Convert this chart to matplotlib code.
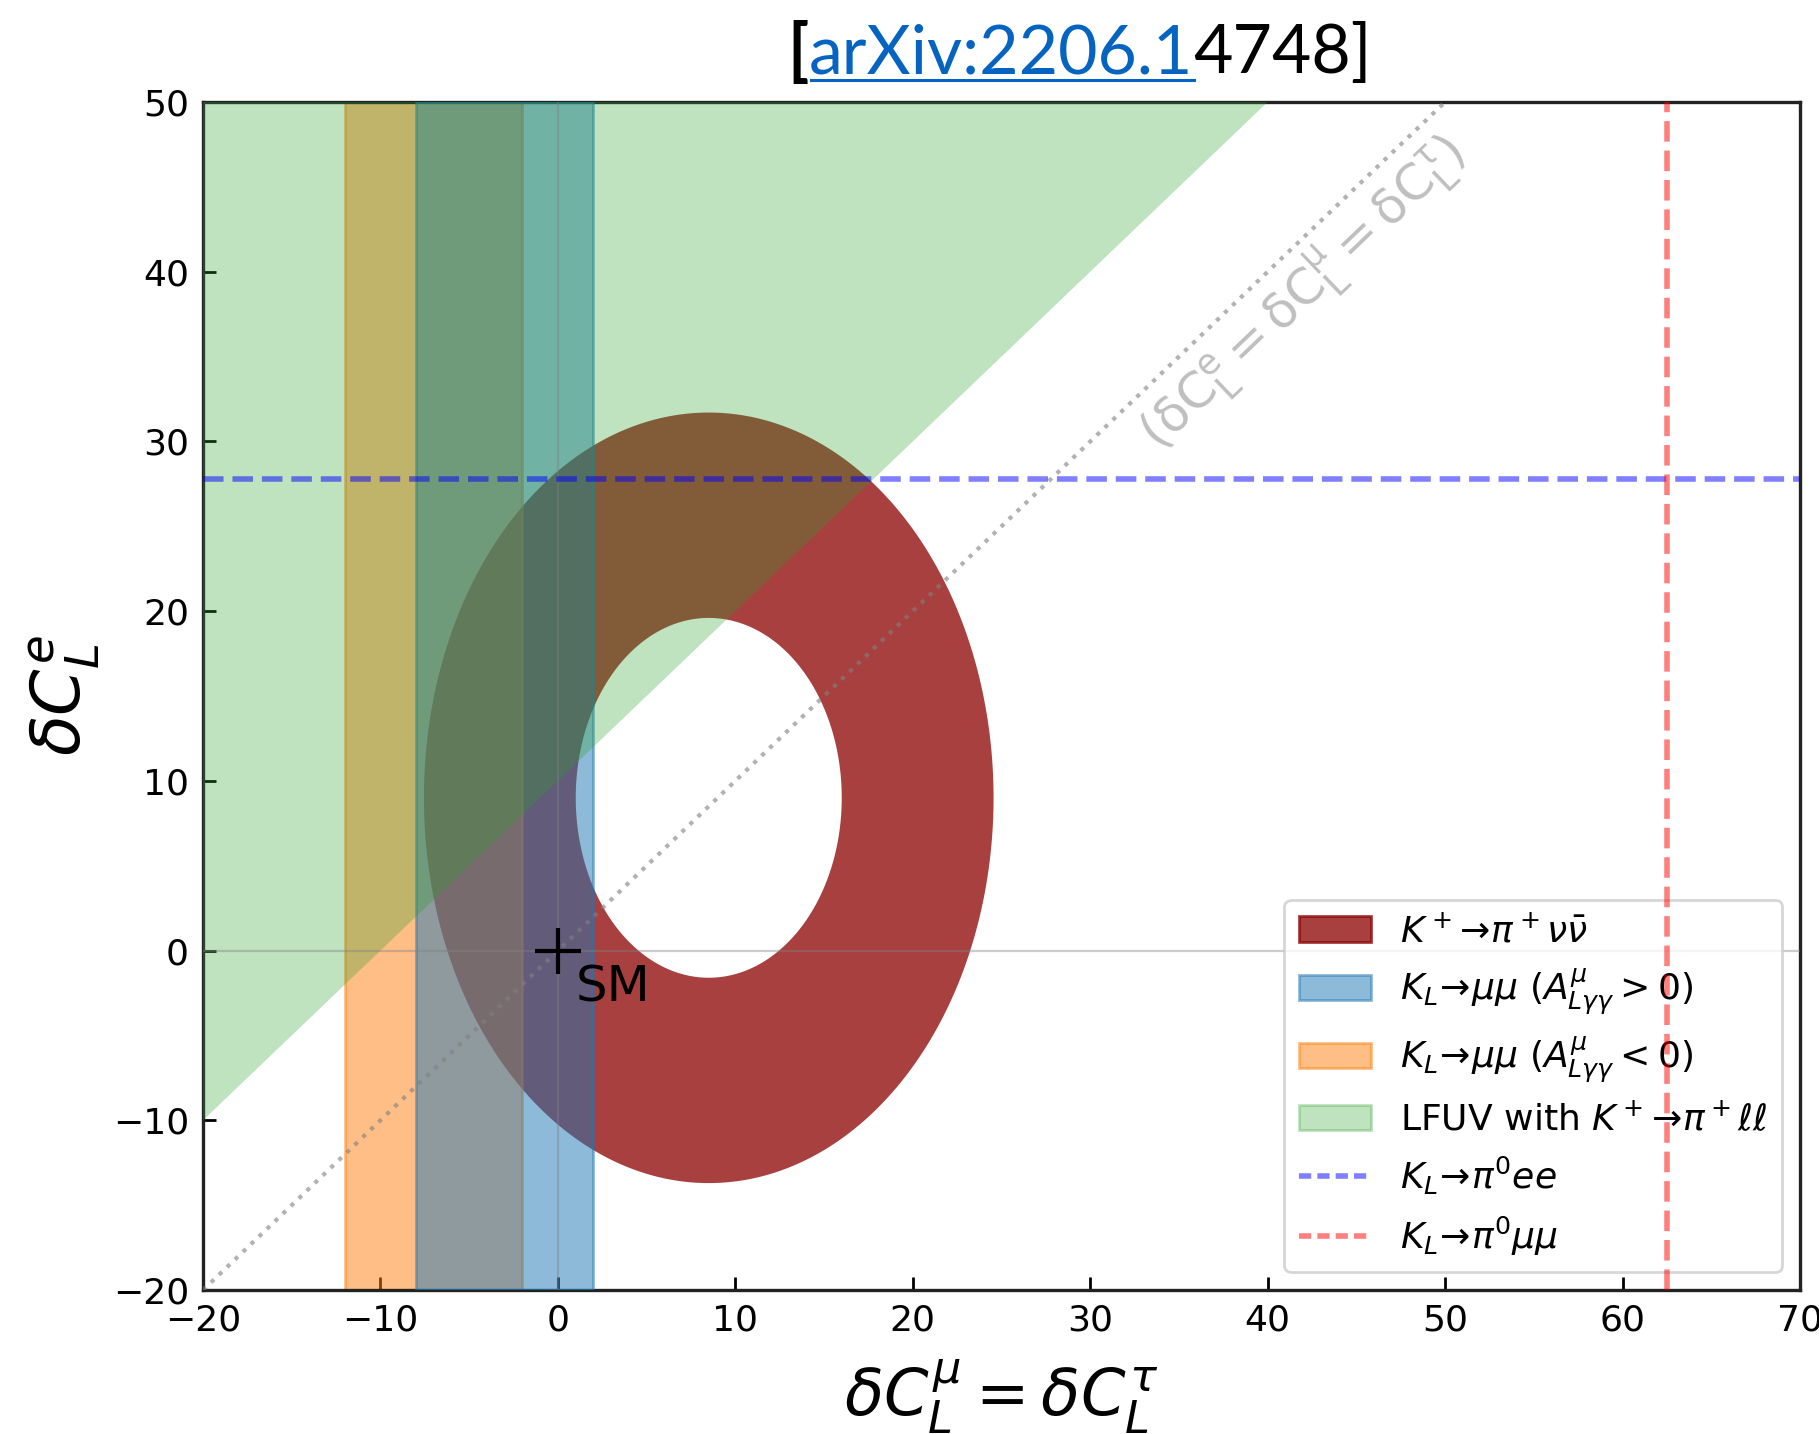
import matplotlib
matplotlib.use("Agg")
import matplotlib.pyplot as plt
import numpy as np
from matplotlib.patches import Patch
from matplotlib.lines import Line2D

# K+ -> pi+ nu nubar allowed ring: centre and semi-axes (inner, outer)
ring_center = (8.5, 9.0)
ring_rx = [7.5, 16.05]
ring_ry = [10.6, 22.7]

# K_L -> mu mu allowed bands in dC_L^mu
band_pos = [-8.0, 2.0]    # A^mu_Lgg > 0
band_neg = [-12.0, -2.0]  # A^mu_Lgg < 0

# LFUV wedge from K+ -> pi+ l l
lfuv_x = [-20, 40, -20]
lfuv_y = [-10, 50, 50]

# dashed bounds
bound_ee = 27.8     # K_L -> pi0 ee  (on dC_L^e)
bound_mumu = 62.5   # K_L -> pi0 mumu (on dC_L^mu)

diag = [-20, 50]
sm_point = (0, 0)

xticks = np.arange(-20, 71, 10)
yticks = np.arange(-20, 51, 10)

fig = plt.figure(figsize=(9.095, 7.17), dpi=200)
ax = fig.add_axes([0.1116, 0.1004, 0.878, 0.8285])

# ring
xx, yy = np.meshgrid(np.linspace(-20, 70, 1200), np.linspace(-20, 50, 1000))
rr = ((xx - ring_center[0]) / ring_rx[1]) ** 2 + ((yy - ring_center[1]) / ring_ry[1]) ** 2
ax.contourf(xx, yy, rr, levels=[(ring_ry[0] / ring_ry[1]) ** 2, 1.0],
            colors=["darkred"], alpha=0.75, zorder=1, antialiased=True)

ax.axvspan(*band_neg, color="tab:orange", alpha=0.5, lw=1, zorder=2)
ax.axvspan(*band_pos, color="tab:blue", alpha=0.5, lw=1, zorder=3)
ax.fill(lfuv_x, lfuv_y, color="tab:green", alpha=0.3, lw=0, zorder=4)

ax.axhline(0, color="gray", lw=0.8, alpha=0.4, zorder=5)
ax.axvline(0, color="gray", lw=0.8, alpha=0.4, zorder=5)
ax.plot(diag, diag, ls=":", color="gray", lw=1.5, alpha=0.6, zorder=5)
ax.axhline(bound_ee, color="blue", ls="--", lw=2, alpha=0.5, zorder=6)
ax.axvline(bound_mumu, color="red", ls="--", lw=2, alpha=0.5, zorder=6)

ax.plot(*sm_point, marker="+", color="black", ms=16.5, mew=1.5, zorder=7)
ax.text(1.0, -3.0, "SM", fontsize=18, va="baseline", ha="left", zorder=7)

ax.text(42.0, 38.7, r"$\mathregular{(\delta C^e_L = \delta C^\mu_L = \delta C^\tau_L)}$",
        rotation=45, transform_rotates_text=True, rotation_mode="anchor",
        ha="center", va="center", color="gray", alpha=0.5, fontsize=18, zorder=5)

ax.set_xlim(-20, 70)
ax.set_ylim(-20, 50)
ax.set_xticks(xticks)
ax.set_yticks(yticks)
ax.tick_params(direction="in", length=4.7, width=1.0, labelsize=13, pad=5)
for s in ax.spines.values():
    s.set_linewidth(1.2)
    s.set_color("#222222")

ax.set_xlabel(r"$\delta C^\mu_L = \delta C^\tau_L$", fontsize=23)
ax.set_ylabel(r"$\delta C^e_L$", fontsize=24)
ax.xaxis.set_label_coords(0.5, -0.056)
ax.yaxis.set_label_coords(-0.064, 0.5)

handles = [
    Patch(facecolor="darkred", alpha=0.75, edgecolor="darkred"),
    Patch(facecolor="tab:blue", alpha=0.5, edgecolor="tab:blue"),
    Patch(facecolor="tab:orange", alpha=0.5, edgecolor="tab:orange"),
    Patch(facecolor="tab:green", alpha=0.3, edgecolor="tab:green"),
    Line2D([], [], color="blue", ls=(0, (2.2, 1.1)), lw=2, alpha=0.5),
    Line2D([], [], color="red", ls=(0, (2.2, 1.1)), lw=2, alpha=0.5),
]
labels = [
    r"$K^+\!\to\!\pi^+\nu\bar{\nu}$",
    r"$K_L\!\to\!\mu\mu\ (A^\mu_{L\gamma\gamma} > 0)$",
    r"$K_L\!\to\!\mu\mu\ (A^\mu_{L\gamma\gamma} < 0)$",
    r"LFUV with $K^+\!\to\!\pi^+\ell\ell$",
    r"$K_L\!\to\!\pi^0ee$",
    r"$K_L\!\to\!\pi^0\mu\mu$",
]
ax.legend(handles, labels, loc="lower right", fontsize=13, labelspacing=0.48)

# title made of pieces: "[" + linked part + rest
W, H = fig.get_size_inches() * fig.dpi
renderer = fig.canvas.get_renderer()
pieces = [("[", "black", "bold"), ("arXiv:2206.1", "#0563C1", "normal"), ("4748]", "black", "normal")]
texts = []
for s, c, w in pieces:
    t = fig.text(0, 1 - 73 / H, s, color=c, fontweight=w, family="Lato",
                 fontsize=24.5, va="baseline", ha="left")
    texts.append(t)
widths = [t.get_window_extent(renderer).width for t in texts]
x = 1080 - sum(widths) / 2
starts = []
for t, w in zip(texts, widths):
    t.set_x(x / W)
    starts.append(x)
    x += w
fig.add_artist(Line2D([(starts[1] + 2) / W, (starts[1] + widths[1]) / W],
                      [1 - 80 / H, 1 - 80 / H], color="#0563C1", lw=1.1))

fig.savefig("out.png", dpi=200)
